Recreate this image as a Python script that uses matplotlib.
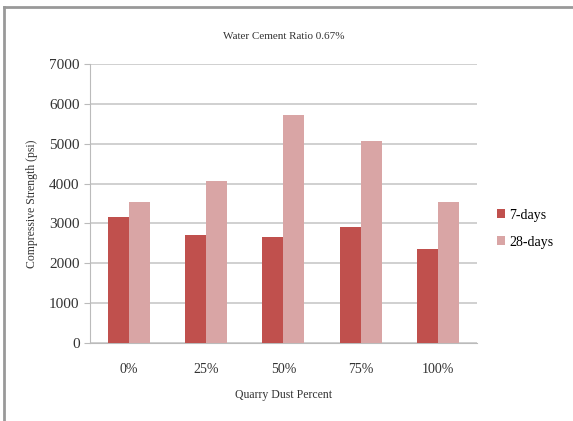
import numpy as np
import matplotlib.pyplot as plt
from matplotlib.lines import Line2D

plt.rcParams['font.family'] = ['Liberation Serif', 'DejaVu Serif']

# compressive strength by quarry dust replacement
dust_pct = ["0%", "25%", "50%", "75%", "100%"]
days_7 = [3160, 2710, 2670, 2900, 2350]
days_28 = [3550, 4070, 5730, 5060, 3530]

fig = plt.figure(figsize=(5.73, 4.21), dpi=100)
ax = fig.add_axes([0.157, 0.185, 0.675, 0.663])

x = np.arange(len(dust_pct))
w = 0.27
ax.bar(x - w / 2, days_7, w, color="#c0504d", label="7-days", zorder=3)
ax.bar(x + w / 2, days_28, w, color="#d9a5a5", label="28-days", zorder=3)

ax.set_xlim(-0.5, len(dust_pct) - 0.5)
ax.set_ylim(0, 7000)
ax.set_yticks(range(0, 7001, 1000))
ax.set_xticks(x)
ax.set_xticklabels(dust_pct)
ax.yaxis.grid(True, color="#c8c8c8", lw=1.2, zorder=0)

for s in ["top", "right"]:
    ax.spines[s].set_visible(False)
ax.spines["left"].set_color("#bbbbbb")
ax.spines["bottom"].set_color("#bbbbbb")
ax.tick_params(axis="x", length=0, pad=14, labelsize=10, colors="#333333")
ax.tick_params(axis="y", length=4, color="#bbbbbb", labelsize=11, colors="#333333")

ax.set_title("Water Cement Ratio 0.67%", fontsize=8, color="#333333", pad=18)
ax.set_xlabel("Quarry Dust Percent", fontsize=8.5, color="#333333", labelpad=10)
ax.set_ylabel("Compressive Strength (psi)", fontsize=8.5, color="#333333", labelpad=8)

ax.legend(loc="center left", bbox_to_anchor=(1.02, 0.41), frameon=False,
          fontsize=10, handlelength=0.6, handleheight=0.6, labelspacing=1.0,
          handletextpad=0.3)

# left and top edge of the chart frame
fig.add_artist(Line2D([4 / 573, 4 / 573], [0, 1 - 7 / 421], color="#999999", lw=2))
fig.add_artist(Line2D([4 / 573, 1], [1 - 7 / 421, 1 - 7 / 421], color="#999999", lw=2))

fig.savefig("out.png", dpi=100)
